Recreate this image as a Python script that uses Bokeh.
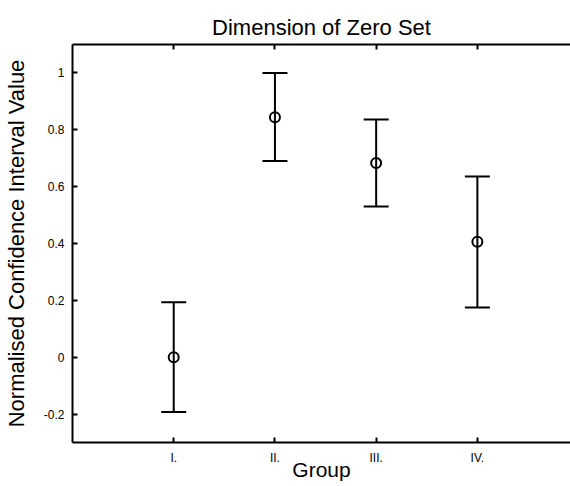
from bokeh.plotting import figure
from bokeh.models import (ColumnDataSource, Whisker, TeeHead, LinearAxis,
                          FixedTicker, Range1d)
from bokeh.embed import file_html
from bokeh.resources import INLINE

# ---- data ----
groups = [1, 2, 3, 4]
group_labels = ["I.", "II.", "III.", "IV."]
means = [0.0, 0.844, 0.683, 0.406]
lowers = [-0.193, 0.690, 0.530, 0.175]
uppers = [0.193, 1.000, 0.836, 0.636]
y_ticks = [-0.2, 0.0, 0.2, 0.4, 0.6, 0.8, 1.0]
y_tick_labels = ["-0.2", "0", "0.2", "0.4", "0.6", "0.8", "1"]

FONT = "Liberation Sans"

src = ColumnDataSource(dict(x=groups, mean=means, lower=lowers, upper=uppers))

p = figure(width=570, height=486, output_backend="svg", toolbar_location=None,
           x_range=Range1d(0, 4.92), y_range=Range1d(-0.3, 1.1),
           x_axis_location=None, y_axis_location=None,
           min_border_left=72, min_border_right=0, min_border_top=44,
           min_border_bottom=44)
p.outline_line_color = None
p.grid.visible = False
p.background_fill_color = "white"
p.border_fill_color = "white"

p.title.text = "Dimension of Zero Set"
p.title.align = "center"
p.title.text_font = FONT
p.title.text_font_size = "22px"
p.title.text_font_style = "normal"
p.title.text_color = "black"
p.title.standoff = 10

# left axis
ya = LinearAxis(ticker=FixedTicker(ticks=y_ticks),
                major_label_overrides={t: l for t, l in zip(y_ticks, y_tick_labels)})
ya.axis_label = "Normalised Confidence Interval Value"
# bottom axis
xa = LinearAxis(ticker=FixedTicker(ticks=groups),
                major_label_overrides={g: l for g, l in zip(groups, group_labels)})
xa.axis_label = "Group"
# top axis (ticks only, labels not drawn)
ta = LinearAxis(ticker=FixedTicker(ticks=groups))

for ax in (ya, xa, ta):
    ax.axis_line_width = 2
    ax.axis_line_color = "black"
    ax.major_tick_in = 5
    ax.major_tick_out = 0
    ax.major_tick_line_width = 2
    ax.major_tick_line_color = "black"
    ax.minor_tick_line_color = None
    ax.major_label_text_font = FONT
    ax.major_label_text_color = "black"
    ax.axis_label_text_font = FONT
    ax.axis_label_text_font_style = "normal"
    ax.axis_label_text_color = "black"

ta.major_label_text_color = None
ta.major_label_text_font_size = "1px"
ta.major_label_standoff = 0

ya.major_label_text_font_size = "12px"
ya.major_label_standoff = 8
ya.axis_label_text_font_size = "22px"
ya.axis_label_standoff = 12

xa.major_label_text_font_size = "12px"
xa.major_label_standoff = 8
xa.axis_label_text_font_size = "21px"
xa.axis_label_standoff = -10

p.add_layout(ya, "left")
p.add_layout(xa, "below")
p.add_layout(ta, "above")

w = Whisker(base="x", lower="lower", upper="upper", source=src,
            line_width=2, line_color="black",
            lower_head=TeeHead(size=25, line_width=2, line_color="black"),
            upper_head=TeeHead(size=25, line_width=2, line_color="black"))
p.add_layout(w)

p.scatter("x", "mean", source=src, marker="circle", size=10,
          fill_color=None, line_color="black", line_width=2)

open("out.html", "w").write(file_html(p, INLINE))
